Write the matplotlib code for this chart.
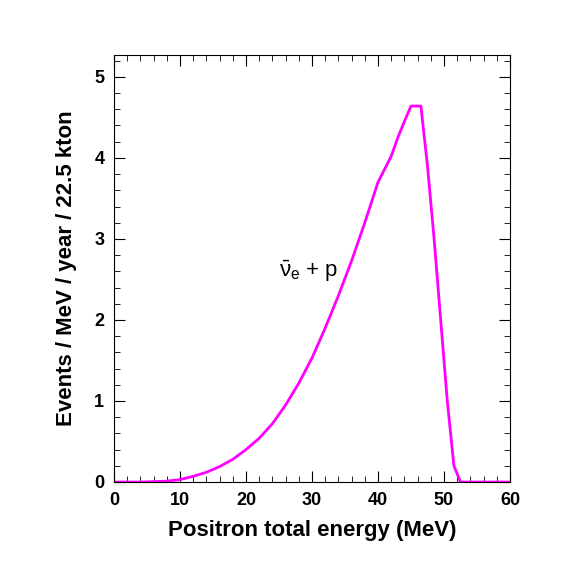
import matplotlib
matplotlib.use("Agg")
import matplotlib.pyplot as plt

energy = [0, 2, 4, 6, 8, 10, 12, 14, 16, 18, 20, 22, 24, 26, 28, 30, 32, 34, 36, 38, 40, 41, 42, 43, 44, 45, 46, 46.5, 47.5, 48.5, 49.5, 50.5, 51.5, 52.5, 54, 60]
events = [0, 0, 0, 0.005, 0.01, 0.03, 0.07, 0.12, 0.19, 0.28, 0.40, 0.54, 0.72, 0.95, 1.22, 1.53, 1.90, 2.30, 2.73, 3.20, 3.70, 3.86, 4.02, 4.25, 4.45, 4.64, 4.64, 4.64, 3.9, 3.0, 2.0, 1.0, 0.2, 0.0, 0.0, 0.0]

plt.rcParams['font.family'] = ['Liberation Sans', 'DejaVu Sans']
plt.rcParams['mathtext.fontset'] = 'custom'
plt.rcParams['mathtext.rm'] = 'Liberation Sans'
plt.rcParams['mathtext.it'] = 'Liberation Sans'
fig = plt.figure(figsize=(5.67, 5.67), dpi=100)
ax = fig.add_axes([114/567, 85/567, 396/567, 427/567])
ax.plot(energy, events, color='#ff00ff', lw=2)
ax.set_xlim(0, 60)
ax.set_ylim(0, 5.27)
ax.set_xticks(range(0, 61, 10))
ax.set_yticks(range(0, 6))
ax.set_xticks(range(0, 61, 2), minor=True)
ax.set_yticks([i*0.2 for i in range(27)], minor=True)
ax.tick_params(which='both', direction='in', top=True, right=True, labelsize=13, pad=7)
ax.tick_params(which='major', length=8)
ax.tick_params(which='minor', length=4)
for l in ax.get_xticklabels() + ax.get_yticklabels():
    l.set_fontweight('bold')
ax.set_xlabel('Positron total energy (MeV)', fontsize=16, fontweight='bold', labelpad=8)
ax.set_ylabel('Events / MeV / year / 22.5 kton', fontsize=16, fontweight='bold', labelpad=12)
ax.text(29.5, 2.6, r'$\bar{\mathrm{\nu}}_{\mathrm{e}}$ + p', fontsize=16, ha='center', va='center')
fig.savefig('out.png', dpi=100)
